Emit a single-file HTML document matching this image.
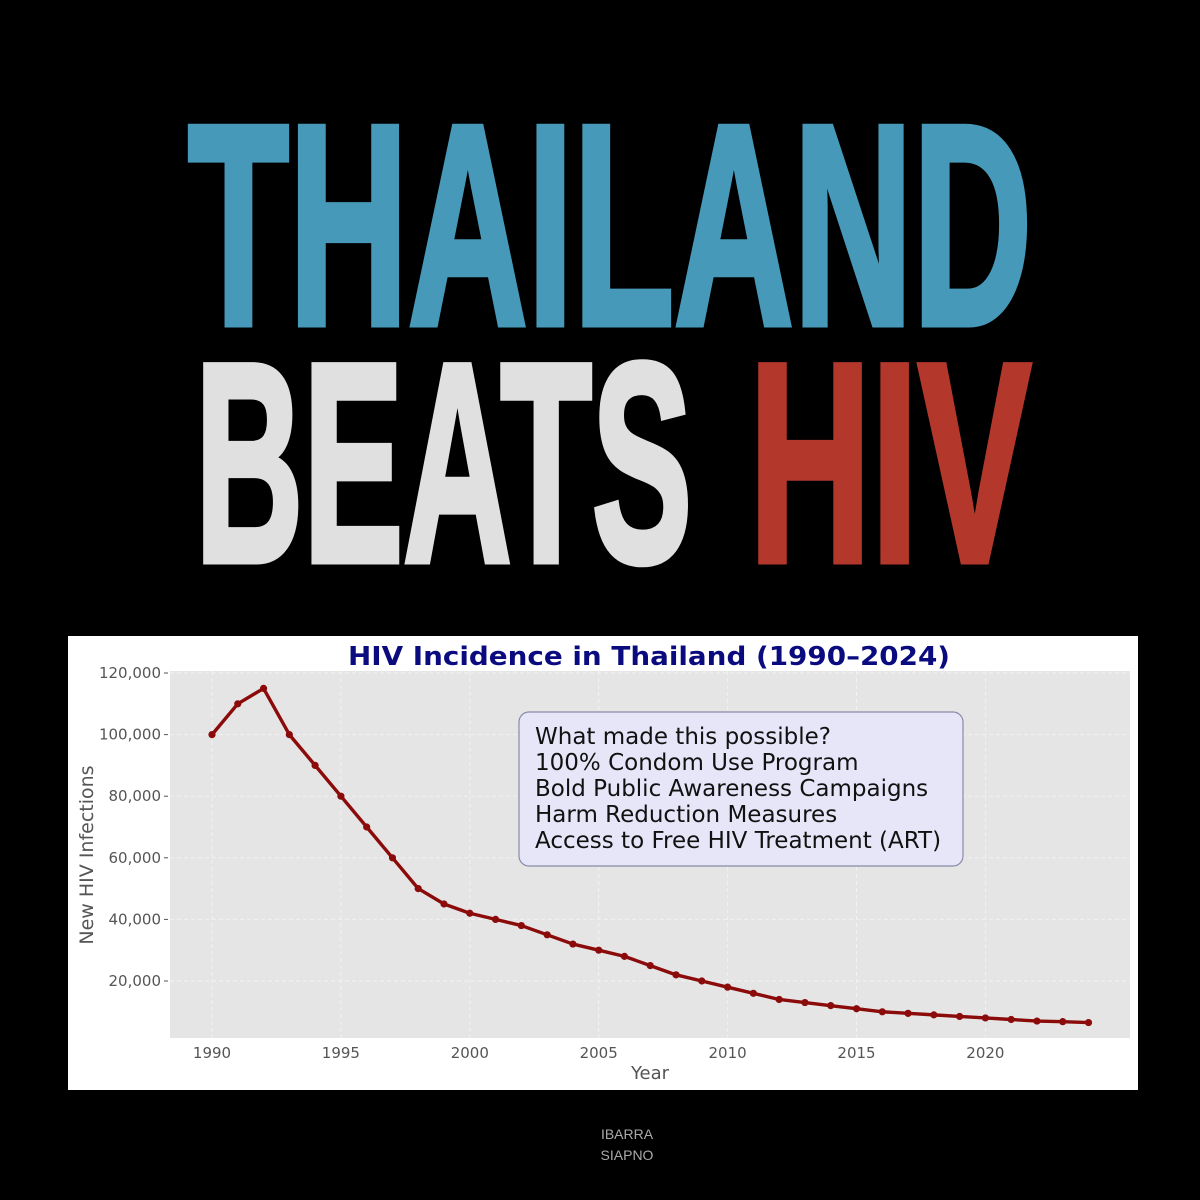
<!DOCTYPE html>
<html><head><meta charset="utf-8"><style>
html,body{margin:0;padding:0;background:#000;width:1200px;height:1200px;overflow:hidden}
svg{display:block}
</style></head><body>
<svg width="1200" height="1200" viewBox="0 0 1200 1200">
<rect width="1200" height="1200" fill="#000"/>
<text x="188" y="324" font-family="'Liberation Sans Narrow','Liberation Sans',sans-serif" font-weight="bold" font-size="286" fill="#4699b8" stroke="#4699b8" stroke-width="7" stroke-linejoin="miter" textLength="844" lengthAdjust="spacingAndGlyphs">THAILAND</text>
<text x="195" y="561" font-family="'Liberation Sans Narrow','Liberation Sans',sans-serif" font-weight="bold" font-size="284" fill="#e0e0e0" stroke="#e0e0e0" stroke-width="7" textLength="497" lengthAdjust="spacingAndGlyphs">BEATS</text>
<text x="749" y="561" font-family="'Liberation Sans Narrow','Liberation Sans',sans-serif" font-weight="bold" font-size="284" fill="#b3372b" stroke="#b3372b" stroke-width="7" textLength="282" lengthAdjust="spacingAndGlyphs">HIV</text>
<rect x="68" y="636" width="1070" height="454" fill="#fff"/>
<text x="348" y="665" font-family="'DejaVu Sans',sans-serif" font-weight="bold" font-size="26" fill="#0b0b80" textLength="602" lengthAdjust="spacingAndGlyphs">HIV Incidence in Thailand (1990–2024)</text>
<rect x="170" y="671" width="960" height="367" fill="#e5e5e5"/>
<g id="grid"></g>
<g id="axes" font-family="'DejaVu Sans',sans-serif" font-size="15" fill="#555"></g>
<text transform="translate(93 855) rotate(-90)" text-anchor="middle" font-family="'DejaVu Sans',sans-serif" font-size="19" fill="#555">New HIV Infections</text>
<text x="650" y="1079" text-anchor="middle" font-family="'DejaVu Sans',sans-serif" font-size="18" fill="#555">Year</text>
<g id="series"></g>
<g>
<rect x="519" y="712" width="444" height="154" rx="10" fill="#e6e6f8" stroke="#8a8aa8" stroke-width="1.2"/>
<g font-family="'DejaVu Sans',sans-serif" font-size="23" fill="#111">
<text x="535" y="744">What made this possible?</text>
<text x="535" y="770">100% Condom Use Program</text>
<text x="535" y="796">Bold Public Awareness Campaigns</text>
<text x="535" y="822">Harm Reduction Measures</text>
<text x="535" y="848">Access to Free HIV Treatment (ART)</text>
</g></g>
<text x="627" y="1139" text-anchor="middle" font-family="'Liberation Sans',sans-serif" font-size="14" fill="#aaa">IBARRA</text>
<text x="627" y="1160" text-anchor="middle" font-family="'Liberation Sans',sans-serif" font-size="14" fill="#aaa">SIAPNO</text>
</svg>
<script>
const years=[1990,1991,1992,1993,1994,1995,1996,1997,1998,1999,2000,2001,2002,2003,2004,2005,2006,2007,2008,2009,2010,2011,2012,2013,2014,2015,2016,2017,2018,2019,2020,2021,2022,2023,2024];
const infections=[100000,110000,115000,100000,90000,80000,70000,60000,50000,45000,42000,40000,38000,35000,32000,30000,28000,25000,22000,20000,18000,16000,14000,13000,12000,11000,10000,9500,9000,8500,8000,7500,7000,6800,6500];
const yTicks=[20000,40000,60000,80000,100000,120000];
const xTicks=[1990,1995,2000,2005,2010,2015,2020];
const NS='http://www.w3.org/2000/svg';
function xs(v){return 212+(v-1990)*25.78;}
function ys(v){return 1042.6-v*0.00308;}
function mk(t,a,p){const e=document.createElementNS(NS,t);for(const k in a)e.setAttribute(k,a[k]);p.appendChild(e);return e;}
const grid=document.getElementById('grid'),axes=document.getElementById('axes'),ser=document.getElementById('series');
yTicks.forEach(v=>{
 const l=mk('line',{x1:170,x2:1130,y1:ys(v),y2:ys(v),stroke:'#f2f2f2','stroke-width':1,'stroke-dasharray':'4 3'},grid);
 
 
 const tk=mk('line',{x1:164,x2:168,y1:ys(v),y2:ys(v),stroke:'#555'},axes);
 
 
 const t=mk('text',{x:161,y:ys(v)+5,'text-anchor':'end'},axes);
 t.textContent=v.toLocaleString('en-US');
 
 
});
xTicks.forEach(v=>{
 const l=mk('line',{x1:xs(v),x2:xs(v),y1:671,y2:1038,stroke:'#f2f2f2','stroke-width':1,'stroke-dasharray':'4 3'},grid);
 
 
 const t=mk('text',{x:xs(v),y:1058,'text-anchor':'middle'},axes);
 t.textContent=v;
 
 
});
const pts=years.map((y,i)=>xs(y)+','+ys(infections[i])).join(' ');
const pl=mk('polyline',{points:pts,fill:'none',stroke:'#8b0a0a','stroke-width':3.4,'stroke-linejoin':'round'},ser);


years.forEach((y,i)=>{
 const c=mk('circle',{cx:xs(y),cy:ys(infections[i]),r:3.6,fill:'#8b0a0a'},ser);
 
 
});
</script>
</body></html>
